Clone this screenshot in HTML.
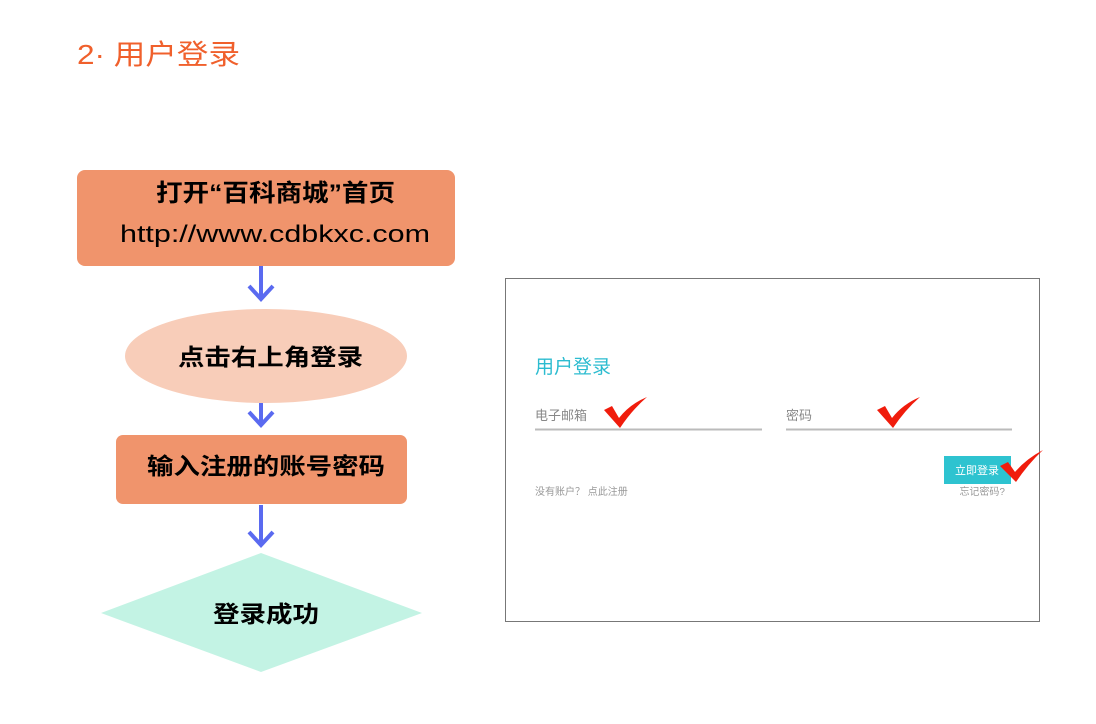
<!DOCTYPE html>
<html><head><meta charset="utf-8"><style>
body{margin:0;background:#fff;width:1096px;height:719px;overflow:hidden}
text{font-family:"Liberation Sans","Noto Sans CJK SC",sans-serif}
</style></head><body>
<svg width="1096" height="719" viewBox="0 0 1096 719" xmlns="http://www.w3.org/2000/svg">
<text x="77" y="64" font-size="28" fill="#f0602c" textLength="163" lengthAdjust="spacingAndGlyphs">2· 用户登录</text>
<rect x="77" y="170" width="378" height="96" rx="8" fill="#f0946c"/>
<text x="156" y="201" font-size="24" font-weight="bold" fill="#000" textLength="239" lengthAdjust="spacingAndGlyphs">打开“百科商城”首页</text>
<text x="120" y="242" font-size="24" fill="#000" font-family="Liberation Sans" textLength="310" lengthAdjust="spacingAndGlyphs">http://www.cdbkxc.com</text>
<g stroke="#5a6af0" stroke-width="4" fill="none">
<line x1="261" y1="266" x2="261" y2="298"/><polyline points="249,286 261,299 273,286"/>
<line x1="261" y1="392" x2="261" y2="424"/><polyline points="249,412 261,425 273,412"/>
<line x1="261" y1="505" x2="261" y2="544"/><polyline points="249,532 261,545 273,532"/>
</g>
<ellipse cx="266" cy="356" rx="141" ry="47" fill="#f8cdb9"/>
<text x="178" y="365" font-size="23" font-weight="bold" fill="#000" textLength="185" lengthAdjust="spacingAndGlyphs">点击右上角登录</text>
<rect x="116" y="435" width="291" height="69" rx="7" fill="#f0946c"/>
<text x="147" y="474" font-size="23" font-weight="bold" fill="#000" textLength="238" lengthAdjust="spacingAndGlyphs">输入注册的账号密码</text>
<polygon points="261,553 422,613 261,672 101,613" fill="#c3f3e4"/>
<text x="213" y="622" font-size="23" font-weight="bold" fill="#000" textLength="106" lengthAdjust="spacingAndGlyphs">登录成功</text>
<rect x="505.5" y="278.5" width="534" height="343" fill="#fff" stroke="#777"/>
<text x="535" y="373" font-size="19" fill="#2cbcd0" font-family="Liberation Serif,'Noto Serif CJK SC',serif">用户登录</text>
<text x="535" y="420" font-size="13" fill="#888" font-family="Liberation Serif,'Noto Serif CJK SC',serif">电子邮箱</text>
<text x="786" y="420" font-size="13" fill="#888" font-family="Liberation Serif,'Noto Serif CJK SC',serif">密码</text>
<line x1="535" y1="429.5" x2="762" y2="429.5" stroke="#bbb" stroke-width="2"/>
<line x1="786" y1="429.5" x2="1012" y2="429.5" stroke="#bbb" stroke-width="2"/>
<rect x="944" y="456" width="67" height="28" fill="#2ec3d0"/>
<text x="977" y="474" font-size="11" fill="#fff" text-anchor="middle" font-family="Liberation Serif,'Noto Serif CJK SC',serif">立即登录</text>
<text x="535" y="495" font-size="10" fill="#999" font-family="Liberation Serif,'Noto Serif CJK SC',serif">没有账户？ 点此注册</text>
<text x="1005" y="495" font-size="10" fill="#999" text-anchor="end" font-family="Liberation Serif,'Noto Serif CJK SC',serif">忘记密码?</text>
<g fill="#f01c0c">
<path d="M604,410 L612,406 L619,418 Q630,404 647,397 Q632,410 620,428 Z"/>
<path d="M877,410 L885,406 L892,418 Q903,404 920,397 Q905,410 893,428 Z"/>
<path d="M1000,466 L1008,462 L1015,472 Q1026,459 1043,450 Q1028,464 1016,482 Z"/>
</g>
</svg>
</body></html>
